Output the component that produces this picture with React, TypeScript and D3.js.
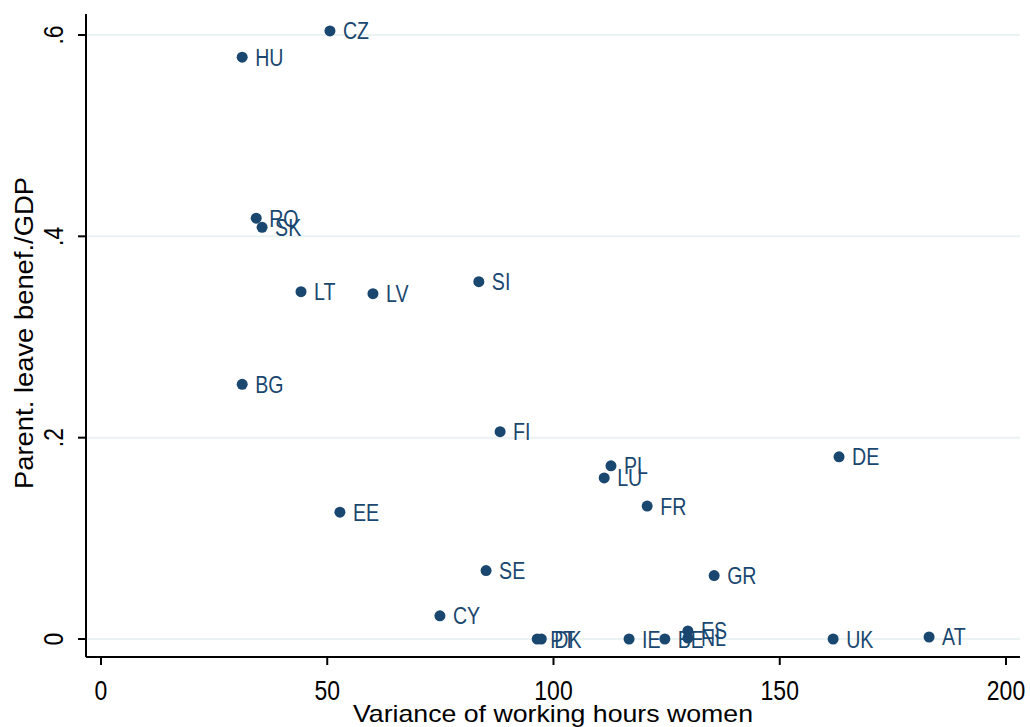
import React from "react";
import * as d3 from "d3";

const countries = ["CZ","HU","RO","SK","LT","LV","SI","BG","FI","PL","LU","DE","FR","EE","SE","GR","CY","PT","DK","IE","BE","NL","ES","UK","AT"];
const variance = [50.6,31.2,34.3,35.6,44.2,60.1,83.5,31.2,88.2,112.7,111.2,163.1,120.7,52.8,85.1,135.5,74.9,96.4,97.3,116.7,124.6,129.7,129.7,161.8,183.0];
const leaveGdp = [0.604,0.578,0.418,0.409,0.345,0.343,0.355,0.253,0.206,0.172,0.160,0.181,0.132,0.126,0.068,0.063,0.023,0.0,0.0,0.0,0.0,0.001,0.008,0.0,0.002];
const xTicks = [0,50,100,150,200];
const yTicks = [0,0.2,0.4,0.6];
const yTickLabels = ["0",".2",".4",".6"];

const W = 1030, H = 727;
const color = "#1a476f";
const font = "'Liberation Sans', Arial, sans-serif";

export default function App() {
  const x = d3.scaleLinear().domain([0, 200]).range([101, 1006]);
  const y = d3.scaleLinear().domain([0, 0.6]).range([639, 35]);
  const left = 86, right = 1020, top = 14, bottom = 657;
  return (
    <svg width={W} height={H} style={{ position: "absolute", left: 0, top: 0, background: "#fff" }} fontFamily={font}>
      <rect width={W} height={H} fill="#fff" />
      {yTicks.map((t) => (
        <line key={"g" + t} x1={left} x2={right} y1={y(t)} y2={y(t)} stroke="#eaf2f3" strokeWidth={2} />
      ))}
      <line x1={left} x2={left} y1={top} y2={bottom} stroke="#000" strokeWidth={2} />
      <line x1={left} x2={right} y1={bottom} y2={bottom} stroke="#000" strokeWidth={2} />
      {yTicks.map((t, i) => (
        <g key={"y" + t}>
          <line x1={left - 8} x2={left} y1={y(t)} y2={y(t)} stroke="#000" strokeWidth={2} />
          <text transform={`translate(63,${y(t)}) rotate(-90) scale(1,1.2)`} textAnchor="middle" fontSize={23} fill="#000">{yTickLabels[i]}</text>
        </g>
      ))}
      {xTicks.map((t) => (
        <g key={"x" + t}>
          <line x1={x(t)} x2={x(t)} y1={bottom} y2={bottom + 8} stroke="#000" strokeWidth={2} />
          <text transform={`translate(${x(t)},700) scale(1,1.2)`} textAnchor="middle" fontSize={23} fill="#000">{t}</text>
        </g>
      ))}
      <text x={353} y={722} fontSize={24} fill="#000" textLength={400} lengthAdjust="spacingAndGlyphs">Variance of working hours women</text>
      <text transform={`translate(33,489) rotate(-90)`} fontSize={25} fill="#000" textLength={312} lengthAdjust="spacingAndGlyphs">Parent. leave benef./GDP</text>
      {countries.map((c, i) => (
        <g key={c}>
          <circle cx={x(variance[i])} cy={y(leaveGdp[i])} r={5.5} fill={color} />
          <text transform={`translate(${x(variance[i]) + 13},${y(leaveGdp[i]) + 8.5}) scale(1,1.2)`} fontSize={19.6} fill={color}>{c}</text>
        </g>
      ))}
    </svg>
  );
}
